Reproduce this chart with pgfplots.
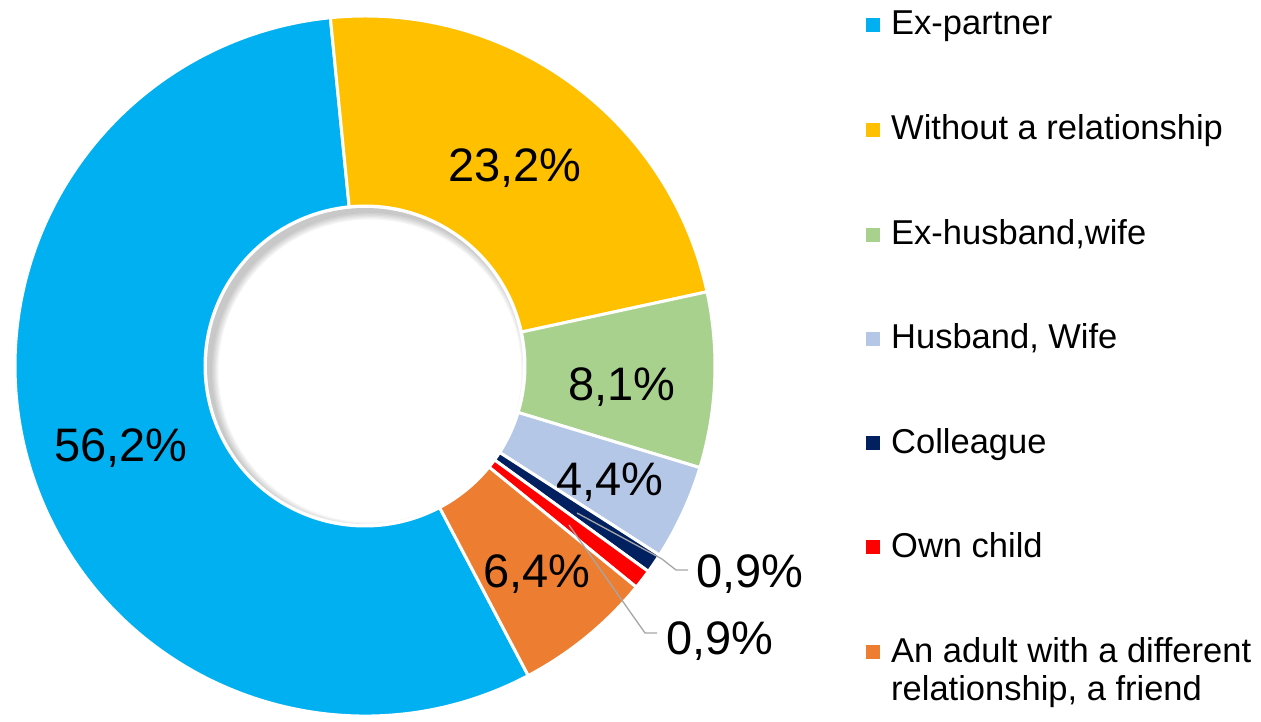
\documentclass[border=0pt]{standalone}
\usepackage{pgfplots}
\pgfplotsset{compat=1.18}
\usepackage{fontspec}
\setmainfont{Liberation Sans}
\definecolor{cExp}{HTML}{00B0F0}
\definecolor{cWor}{HTML}{FFC000}
\definecolor{cExh}{HTML}{A9D18E}
\definecolor{cHw}{HTML}{B4C7E7}
\definecolor{cCol}{HTML}{002060}
\definecolor{cOwn}{HTML}{FF0000}
\definecolor{cAdu}{HTML}{ED7D31}
\definecolor{cLead}{HTML}{A6A6A6}
\begin{document}
\begin{tikzpicture}
\useasboundingbox (0,0) rectangle (1261pt,721pt);
\begin{axis}[at={(0,0)}, anchor=south west, x=1pt, y=1pt,
  xmin=0, xmax=1261, ymin=0, ymax=721, hide axis, clip=false]
\gdef\cum{0}
\foreach \val/\col in {56.2/cExp,23.2/cWor,8.1/cExh,4.4/cHw,0.9/cCol,0.9/cOwn,6.4/cAdu}{
  \pgfmathsetmacro\angA{-62.2-(360/100.1)*\cum}
  \pgfmathsetmacro\angB{-62.2-(360/100.1)*(\cum+\val)}
  \pgfmathsetmacro\xo{365+350*cos(\angA)}
  \pgfmathsetmacro\yo{355+350*sin(\angA)}
  \pgfmathsetmacro\xi{365+160*cos(\angB)}
  \pgfmathsetmacro\yi{355+160*sin(\angB)}
  \edef\temp{\noexpand\fill[\col, draw=white, line width=3pt, line join=round] (axis cs:\xo,\yo) arc[start angle=\angA, end angle=\angB, radius=350pt] -- (axis cs:\xi,\yi) arc[start angle=\angB, end angle=\angA, radius=160pt] -- cycle;}
  \temp
  \pgfmathsetmacro\cumn{\cum+\val}
  \xdef\cum{\cumn}
}
% soft inner shadow in the hole (upper left)
\begin{scope}
\clip (axis cs:365,355) circle[radius=158pt];
\foreach \k in {0,1,2,3,4,5}{
  \pgfmathsetmacro\rr{158-\k*1.3}
  \edef\temp{\noexpand\fill[black, opacity=0.04, even odd rule] (axis cs:365,355) circle[radius=200pt] (axis cs:370,350) circle[radius=\rr pt];}
  \temp
}
\end{scope}
% leader lines
\draw[cLead, line width=1.3pt] (axis cs:577,208) -- (axis cs:662,162) -- (axis cs:676,151) -- (axis cs:688,151);
\draw[cLead, line width=1.3pt] (axis cs:569,196) -- (axis cs:645,88) -- (axis cs:657,88);
% data labels
\begin{scope}[every node/.style={font=\fontsize{47}{50}\selectfont, inner sep=0pt, anchor=base}]
\node at (axis cs:121,260) {56,2\%};
\node at (axis cs:515,539) {23,2\%};
\node at (axis cs:622,321) {8,1\%};
\node at (axis cs:610,226) {4,4\%};
\node at (axis cs:537,134) {6,4\%};
\node at (axis cs:750,134) {0,9\%};
\node at (axis cs:720,67) {0,9\%};
\end{scope}
% legend
\begin{scope}[every node/.style={font=\fontsize{34.5}{38}\selectfont, inner sep=0pt, anchor=base west, align=left}]
\fill[cExp] (axis cs:866,689) rectangle (axis cs:880,703);
\node at (axis cs:891,686) {Ex-partner};
\fill[cWor] (axis cs:866,584) rectangle (axis cs:880,598);
\node at (axis cs:891,581) {Without a relationship};
\fill[cExh] (axis cs:866,479) rectangle (axis cs:880,493);
\node at (axis cs:891,476) {Ex-husband,wife};
\fill[cHw] (axis cs:866,375) rectangle (axis cs:880,389);
\node at (axis cs:891,372) {Husband, Wife};
\fill[cCol] (axis cs:866,271) rectangle (axis cs:880,285);
\node at (axis cs:891,268) {Colleague};
\fill[cOwn] (axis cs:866,167) rectangle (axis cs:880,181);
\node at (axis cs:891,164) {Own child};
\fill[cAdu] (axis cs:866,62) rectangle (axis cs:880,76);
\node at (axis cs:891,59) {An adult with a different};
\node at (axis cs:891,21) {relationship, a friend};
\end{scope}
\end{axis}
\end{tikzpicture}
\end{document}
